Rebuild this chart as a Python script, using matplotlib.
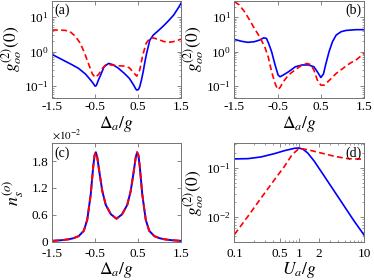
import matplotlib
matplotlib.use('Agg')
import matplotlib.pyplot as plt
import matplotlib.ticker as mticker

plt.rcParams['font.family'] = 'serif'
plt.rcParams['font.serif'] = ['Liberation Serif', 'DejaVu Serif']
plt.rcParams['mathtext.fontset'] = 'stix'
plt.rcParams['axes.unicode_minus'] = False
plt.rcParams['xtick.direction'] = 'in'
plt.rcParams['ytick.direction'] = 'in'
plt.rcParams['xtick.top'] = True
plt.rcParams['ytick.right'] = True

# ---------------- data ----------------
# panel (a)
a_blue_x = [-1.5, -1.27, -1.04, -0.88, -0.72, -0.60, -0.53, -0.50, -0.47, -0.42, -0.37, -0.29,
            -0.185, -0.09, 0.03, 0.185, 0.30, 0.40, 0.45, 0.475, 0.51, 0.54, 0.58, 0.62, 0.66,
            0.70, 0.775, 0.855, 0.97, 1.09, 1.21, 1.33, 1.445, 1.5]
a_blue_y = [0.83, 0.59, 0.42, 0.325, 0.223, 0.149, 0.115, 0.10, 0.104, 0.15, 0.208, 0.363,
            0.454, 0.42, 0.34, 0.233, 0.167, 0.107, 0.082, 0.077, 0.08, 0.096, 0.15, 0.26, 0.5,
            0.885, 2.15, 3.0, 4.0, 5.5, 7.8, 11.4, 19.0, 25.0]
a_red_x = [-1.5, -1.35, -1.19, -1.08, -0.96, -0.84, -0.74, -0.64, -0.56, -0.49, -0.41, -0.33,
           -0.25, -0.13, 0.03, 0.18, 0.30, 0.38, 0.47, 0.54, 0.61, 0.69, 0.77, 0.85, 0.97,
           1.09, 1.20, 1.32, 1.44, 1.5]
a_red_y = [4.2, 4.2, 4.1, 3.76, 2.8, 1.73, 0.885, 0.41, 0.223, 0.178, 0.223, 0.325,
           0.41, 0.41, 0.39, 0.38, 0.34, 0.26, 0.195, 0.29, 0.79, 1.73, 2.4, 2.5, 2.25,
           1.97, 1.85, 1.93, 2.15, 2.3]

# panel (b)
b_blue_x = [-1.5, -1.35, -1.19, -1.04, -0.92, -0.82, -0.76, -0.71, -0.64, -0.56, -0.49, -0.445,
            -0.37, -0.25, -0.09, 0.067, 0.22, 0.34, 0.42, 0.50, 0.56, 0.61, 0.69, 0.77, 0.855,
            0.97, 1.09, 1.32, 1.5]
b_blue_y = [2.25, 2.0, 1.85, 1.93, 2.15, 2.5, 2.4, 1.73, 0.99, 0.41, 0.21, 0.187,
            0.21, 0.26, 0.363, 0.41, 0.41, 0.363, 0.26, 0.178, 0.223, 0.41, 0.99, 1.93, 3.0,
            3.76, 4.1, 4.3, 4.3]
b_red_x = [-1.5, -1.39, -1.27, -1.15, -1.04, -0.92, -0.80, -0.72, -0.64, -0.56, -0.50, -0.445,
           -0.37, -0.25, -0.09, 0.067, 0.185, 0.264, 0.34, 0.42, 0.50, 0.58, 0.70, 0.855,
           1.01, 1.17, 1.33, 1.5]
b_red_y = [27.8, 22.3, 14.3, 8.2, 4.7, 2.7, 1.38, 0.71, 0.26, 0.12, 0.08, 0.091,
           0.134, 0.21, 0.30, 0.41, 0.454, 0.42, 0.29, 0.149, 0.107, 0.107, 0.149, 0.233,
           0.325, 0.454, 0.59, 0.885]

# panel (c)  (values in units of 1e-2)
c_x = [-1.5, -1.27, -1.11, -1.0, -0.88, -0.76, -0.68, -0.60, -0.54, -0.51, -0.48, -0.45,
       -0.39, -0.33, -0.25, -0.13, 0.0, 0.13, 0.25, 0.33, 0.39, 0.45, 0.48, 0.51, 0.54,
       0.60, 0.68, 0.76, 0.88, 1.0, 1.11, 1.27, 1.5]
c_blue = [0.014, 0.03, 0.05, 0.074, 0.12, 0.24, 0.49, 1.05, 1.69, 1.93, 2.0, 1.9,
          1.5, 1.13, 0.82, 0.61, 0.51, 0.61, 0.82, 1.13, 1.5, 1.9, 2.0, 1.93, 1.69,
          1.05, 0.49, 0.24, 0.12, 0.074, 0.05, 0.03, 0.014]
c_red = [0.014, 0.03, 0.05, 0.074, 0.12, 0.24, 0.49, 1.05, 1.69, 1.93, 2.0, 1.9,
         1.5, 1.13, 0.82, 0.61, 0.51, 0.61, 0.82, 1.13, 1.5, 1.9, 2.0, 1.93, 1.69,
         1.05, 0.49, 0.24, 0.12, 0.074, 0.05, 0.03, 0.014]

# panel (d)
d_blue_x = [0.1, 0.162, 0.258, 0.415, 0.592, 0.843, 0.973, 1.13, 1.35, 1.71, 2.44, 3.48,
            4.95, 7.06, 10.0]
d_blue_y = [0.152, 0.154, 0.167, 0.195, 0.224, 0.25, 0.254, 0.242, 0.201, 0.136, 0.0675,
            0.0334, 0.0166, 0.0082, 0.0043]
d_red_x = [0.1, 0.162, 0.258, 0.415, 0.592, 0.776, 1.0, 1.35, 2.17, 3.48, 5.57, 10.0]
d_red_y = [0.0044, 0.0104, 0.0244, 0.0575, 0.1075, 0.186, 0.25, 0.234, 0.201, 0.172,
           0.154, 0.15]

delta_ticks = [-1.5, -0.5, 0.5, 1.5]
delta_labels = ['-1.5', '-0.5', '0.5', '1.5']
ns_ticks = [0, 0.6, 1.2, 1.8]
ns_labels = ['0', '0.6', '1.2', '1.8']
u_ticks = [0.1, 0.5, 1, 2, 10]
u_labels = ['0.1', '0.5', '1', '2', '10']

# ---------------- figure ----------------
W, H = 374, 280
fig = plt.figure(figsize=(W / 100, H / 100), dpi=100)


def add_ax(l, t, r, b):
    return fig.add_axes([l / W, 1 - b / H, (r - l) / W, (b - t) / H])


axA = add_ax(52, 1, 181, 97.5)
axB = add_ax(234.5, 1, 364, 97.5)
axC = add_ax(52, 143.3, 181, 241.5)
axD = add_ax(234.5, 143.3, 364, 241.5)

blue = '#0000ff'
red = '#ff0000'
lw = 1.2
dash = (3.5, 2.0)
spine_col = '0.45'
tick_fs = 9.5
lab_fs = 12.5
glabel = r'$g^{(2)}_{oo}(0)$'

for ax in (axA, axB, axC, axD):
    for s in ax.spines.values():
        s.set_color(spine_col)
        s.set_linewidth(0.7)
    ax.tick_params(which='major', length=3, width=0.6, color=spine_col,
                   labelsize=tick_fs, pad=2.5)
    ax.tick_params(which='minor', length=1.5, width=0.5, color=spine_col)

# (a)
axA.plot(a_blue_x, a_blue_y, color=blue, lw=lw)
axA.plot(a_red_x, a_red_y, color=red, lw=lw, dashes=dash)
# (b)
axB.plot(b_blue_x, b_blue_y, color=blue, lw=lw)
axB.plot(b_red_x, b_red_y, color=red, lw=lw, dashes=dash)

for ax, lab, ha, xp in ((axA, '(a)', 'left', 0.02), (axB, '(b)', 'right', 0.98)):
    ax.set_yscale('log')
    ax.set_xlim(-1.5, 1.5)
    ax.set_ylim(0.047, 29)
    ax.set_xticks(delta_ticks)
    ax.set_xticklabels(delta_labels)
    ax.set_xlabel(r'$\Delta_a/g$', fontsize=lab_fs, labelpad=1)
    ax.set_ylabel(glabel, fontsize=lab_fs, labelpad=0)
    ax.text(xp, 0.97, lab, transform=ax.transAxes, ha=ha, va='top', fontsize=10)

# (c)
axC.plot(c_x, c_blue, color=blue, lw=lw + 0.2)
axC.plot(c_x, c_red, color=red, lw=lw + 0.2, dashes=dash)
axC.set_xlim(-1.5, 1.5)
axC.set_ylim(0, 2.2)
axC.set_xticks(delta_ticks)
axC.set_xticklabels(delta_labels)
axC.set_yticks(ns_ticks)
axC.set_yticklabels(ns_labels)
axC.tick_params(axis='x', pad=5)
axC.set_xlabel(r'$\Delta_a/g$', fontsize=lab_fs, labelpad=0)
axC.set_ylabel(r'$n_s^{(o)}$', fontsize=lab_fs + 0.5, labelpad=4)
axC.text(0.0, 1.01, r'$\times10^{-2}$', transform=axC.transAxes, ha='left', va='bottom',
         fontsize=8)
axC.text(0.02, 0.97, '(c)', transform=axC.transAxes, ha='left', va='top', fontsize=10)

# (d)
axD.plot(d_blue_x, d_blue_y, color=blue, lw=lw)
axD.plot(d_red_x, d_red_y, color=red, lw=lw, dashes=dash)
axD.set_xscale('log')
axD.set_yscale('log')
axD.set_xlim(0.1, 10)
axD.set_ylim(10 ** -2.5, 10 ** -0.5)
axD.xaxis.set_major_locator(mticker.FixedLocator(u_ticks))
axD.xaxis.set_major_formatter(mticker.FixedFormatter(u_labels))
axD.xaxis.set_minor_formatter(mticker.NullFormatter())
axD.tick_params(axis='x', pad=5)
axD.set_xlabel(r'$U_a/g$', fontsize=lab_fs, labelpad=0)
axD.set_ylabel(glabel, fontsize=lab_fs, labelpad=0)
axD.text(0.98, 0.97, '(d)', transform=axD.transAxes, ha='right', va='top', fontsize=10)

fig.savefig('out.png', dpi=100)
